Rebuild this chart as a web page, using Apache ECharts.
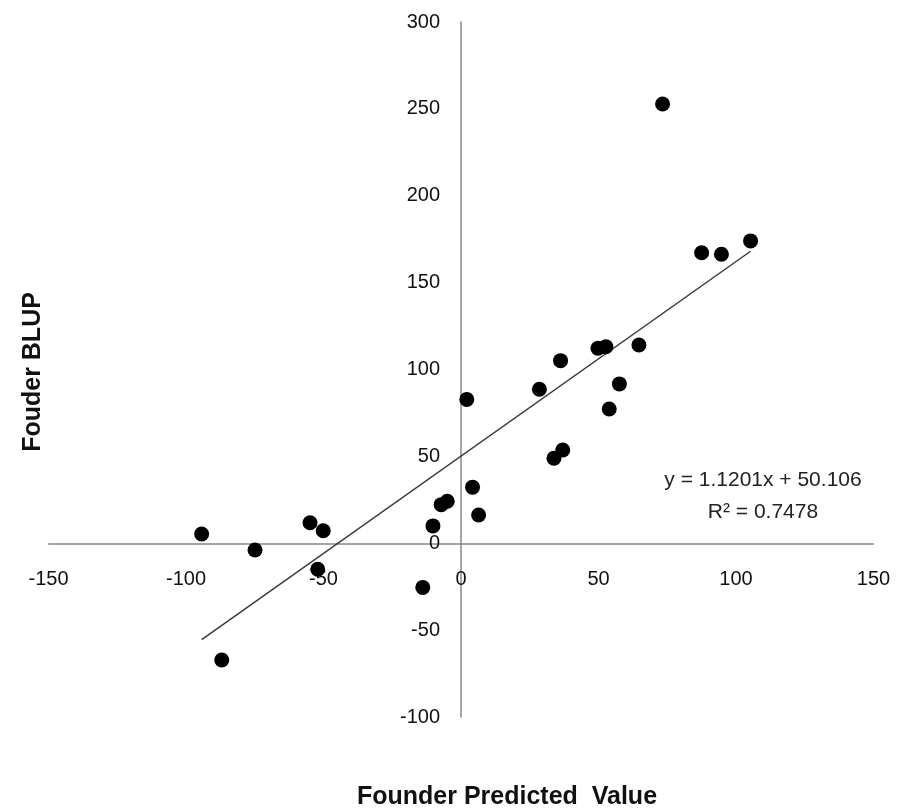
<!DOCTYPE html>
<html>
<head>
<meta charset="utf-8">
<script src="https://cdn.jsdelivr.net/npm/echarts@6/dist/echarts.min.js"></script>
<style>
html,body{margin:0;padding:0;background:#fff;}
#chart{width:905px;height:811px;}
</style>
</head>
<body>
<div id="chart"></div>
<script>
// Founder predicted value (x) and founder BLUP (y)
var predictedValues = [-94.3, -87.0, -74.9, -54.9, -52.1, -50.1, -13.9, -10.2, -7.2, -5.0,
  2.1, 4.2, 6.4, 28.5, 33.8, 36.2, 37.0, 49.8, 52.7, 53.9, 57.6, 64.7, 73.3, 87.5, 94.7, 105.3];
var blupValues = [5.3, -67.2, -3.9, 11.8, -15.0, 7.2, -25.4, 10.0, 22.2, 24.2,
  82.8, 32.3, 16.3, 88.6, 48.9, 105.1, 53.7, 112.2, 113.1, 77.3, 91.7, 114.1, 252.8, 167.2, 166.3, 174.0];
var trendSlope = 1.1201;
var trendIntercept = 50.106;
var xTicks = {min: -150, max: 150, interval: 50};
var yTicks = {min: -100, max: 300, interval: 50};
var equationLines = ['y = 1.1201x + 50.106', 'R\u00b2 = 0.7478'];

var points = predictedValues.map(function (x, i) { return [x, blupValues[i]]; });
var xMin = Math.min.apply(null, predictedValues);
var xMax = Math.max.apply(null, predictedValues);
var trend = [[xMin, trendSlope * xMin + trendIntercept], [xMax, trendSlope * xMax + trendIntercept]];

var gridBox = {left: 48.5, right: 31.5, top: 22, bottom: 94};
var chart = echarts.init(document.getElementById('chart'), null, {renderer: 'canvas'});
var axisFont = {fontFamily: 'Liberation Sans, Arial, sans-serif', fontSize: 20, color: '#111'};
chart.setOption({
  animation: false,
  backgroundColor: '#fff',
  grid: {left: gridBox.left, right: gridBox.right, top: gridBox.top, bottom: gridBox.bottom,
    containLabel: false, outerBoundsMode: 'none'},
  xAxis: {
    type: 'value', min: xTicks.min, max: xTicks.max, interval: xTicks.interval,
    axisLine: {onZero: false, lineStyle: {color: '#888', width: 1.5}},
    axisTick: {show: false},
    splitLine: {show: false},
    axisLabel: Object.assign({margin: 26, showMinLabel: true, showMaxLabel: true}, axisFont)
  },
  yAxis: {
    type: 'value', min: yTicks.min, max: yTicks.max, interval: yTicks.interval,
    axisLine: {show: true, onZero: false, lineStyle: {color: '#888', width: 1.5}},
    axisTick: {show: false},
    splitLine: {show: false},
    axisLabel: Object.assign({margin: 21, showMinLabel: true, showMaxLabel: true}, axisFont)
  },
  series: [
    {
      type: 'line', data: trend, showSymbol: false, symbol: 'none',
      lineStyle: {color: '#3a3a3a', width: 1.5}, z: 2
    },
    {
      type: 'scatter', data: points, symbol: 'circle', symbolSize: 15,
      itemStyle: {color: '#000', opacity: 1}, z: 3
    }
  ],
  graphic: [
    {type: 'text', x: 507, y: 797, style: {
      text: 'Founder Predicted  Value', font: 'bold 25px Liberation Sans, Arial, sans-serif', fill: '#111',
      align: 'center', verticalAlign: 'middle'}},
    {type: 'text', x: 33, y: 372, rotation: Math.PI / 2, style: {
      text: 'Fouder BLUP', font: 'bold 25px Liberation Sans, Arial, sans-serif', fill: '#111',
      align: 'center', verticalAlign: 'middle'}},
    {type: 'text', x: 763, y: 480, style: {
      text: equationLines[0], font: '21px Liberation Sans, Arial, sans-serif', fill: '#222',
      align: 'center', verticalAlign: 'middle'}},
    {type: 'text', x: 763, y: 512, style: {
      text: equationLines[1], font: '21px Liberation Sans, Arial, sans-serif', fill: '#222',
      align: 'center', verticalAlign: 'middle'}}
  ]
});

// Move both axes (line + labels) so they cross at the data origin, using the chart's own scales.
var origin = chart.convertToPixel({gridIndex: 0}, [0, 0]);
var gridBottomPx = chart.getHeight() - gridBox.bottom;
chart.setOption({
  xAxis: {offset: -(gridBottomPx - origin[1])},
  yAxis: {offset: -(origin[0] - gridBox.left)}
});
</script>
</body>
</html>
